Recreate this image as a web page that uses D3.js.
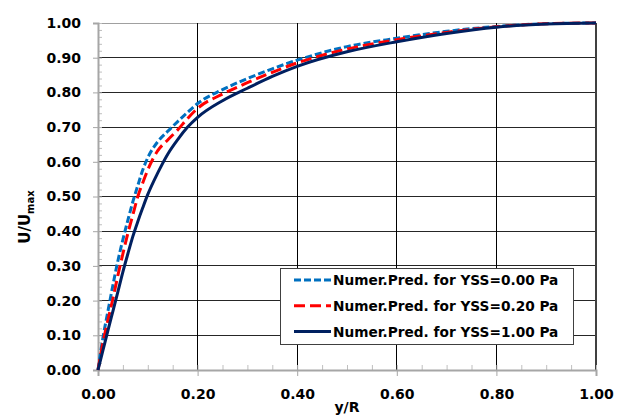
<!DOCTYPE html>
<html>
<head>
<meta charset="utf-8">
<script src="https://cdn.jsdelivr.net/npm/d3@7"></script>
<style>
  body { margin: 0; background: #fff; }
  text { font-family: "DejaVu Sans", sans-serif; font-weight: bold; fill: #000; }
</style>
</head>
<body>
<svg width="624" height="416" id="mainsvg"></svg>
<script>
// data
const yR = [0, 0.01, 0.02, 0.03, 0.04, 0.05, 0.06, 0.07, 0.08, 0.09, 0.10, 0.12, 0.14, 0.16, 0.18, 0.20, 0.25, 0.30, 0.35, 0.40, 0.50, 0.60, 0.70, 0.80, 0.90, 1.00];
const yss000 = [0, 0.094, 0.170, 0.245, 0.315, 0.376, 0.432, 0.485, 0.532, 0.577, 0.612, 0.658, 0.688, 0.716, 0.743, 0.768, 0.808, 0.840, 0.868, 0.893, 0.932, 0.956, 0.976, 0.990, 0.998, 1.000];
const yss020 = [0, 0.079, 0.144, 0.206, 0.273, 0.335, 0.394, 0.447, 0.500, 0.540, 0.577, 0.632, 0.663, 0.692, 0.725, 0.754, 0.795, 0.828, 0.858, 0.885, 0.925, 0.952, 0.973, 0.989, 0.998, 1.000];
const yss100 = [0, 0.057, 0.114, 0.170, 0.226, 0.283, 0.335, 0.385, 0.428, 0.468, 0.506, 0.568, 0.622, 0.664, 0.700, 0.728, 0.776, 0.812, 0.846, 0.875, 0.917, 0.946, 0.970, 0.988, 0.997, 1.000];
const seriesNames = ['Numer.Pred. for YSS=0.00 Pa', 'Numer.Pred. for YSS=0.20 Pa', 'Numer.Pred. for YSS=1.00 Pa'];
const xTicks = [0, 0.2, 0.4, 0.6, 0.8, 1.0];
const yTicks = [0, 0.1, 0.2, 0.3, 0.4, 0.5, 0.6, 0.7, 0.8, 0.9, 1.0];

const svg = d3.select('svg');
const x = d3.scaleLinear().domain([0, 1]).range([98, 596]);
const y = d3.scaleLinear().domain([0, 1]).range([370, 23]);

const series = [
  { name: seriesNames[0], vals: yss000, color: '#0070c0', dash: '7,3' },
  { name: seriesNames[1], vals: yss020, color: '#ff0000', dash: '11,5' },
  { name: seriesNames[2], vals: yss100, color: '#002060', dash: null }
];

// grid
svg.append('g').selectAll('line').data(yTicks.slice(1)).join('line')
  .attr('x1', x(0)).attr('x2', x(1))
  .attr('y1', d => y(d)).attr('y2', d => y(d))
  .attr('stroke', d => d === 1 ? '#a0a0a0' : '#262626').attr('stroke-width', 1)
  .attr('shape-rendering', 'crispEdges');
svg.append('g').selectAll('line').data(xTicks.slice(1)).join('line')
  .attr('x1', d => x(d)).attr('x2', d => x(d))
  .attr('y1', y(0)).attr('y2', y(1))
  .attr('stroke', d => d === 1 ? '#404040' : '#000').attr('stroke-width', d => d === 1 ? 2 : 1)
  .attr('shape-rendering', 'crispEdges');

// minor ticks (inside)
svg.append('g').attr('transform', `translate(${x(0)},0)`)
  .call(d3.axisRight(y).tickValues(d3.range(0, 1.001, 0.02)).tickSize(4).tickFormat(''))
  .call(g => g.select('.domain').remove())
  .call(g => g.selectAll('line').attr('stroke', '#bfbfbf'));
svg.append('g').attr('transform', `translate(0,${y(0)})`)
  .call(d3.axisTop(x).tickValues(d3.range(0, 1.001, 0.05)).tickSize(5).tickFormat(''))
  .call(g => g.select('.domain').remove())
  .call(g => g.selectAll('line').attr('stroke', '#bfbfbf'));

// main axes
svg.append('g').attr('transform', `translate(${x(0)},0)`)
  .call(d3.axisLeft(y).tickValues(yTicks).tickSize(5).tickPadding(12).tickFormat(d3.format('.2f')))
  .call(g => g.select('.domain').attr('stroke', '#a6a6a6').attr('stroke-width', 2))
  .call(g => g.selectAll('line').attr('stroke', '#a6a6a6'))
  .call(g => g.selectAll('text').attr('font-size', 14).attr('font-family', 'DejaVu Sans'));
svg.append('g').attr('transform', `translate(0,${y(0)})`)
  .call(d3.axisBottom(x).tickValues(xTicks).tickSize(6).tickPadding(13).tickFormat(d3.format('.2f')))
  .call(g => g.select('.domain').attr('stroke', '#a6a6a6').attr('stroke-width', 2))
  .call(g => g.selectAll('line').attr('stroke', '#a6a6a6'))
  .call(g => g.selectAll('text').attr('font-size', 14).attr('font-family', 'DejaVu Sans'));

// curves
const line = d3.line().x((d, i) => x(yR[i])).y(d => y(d)).curve(d3.curveMonotoneX);
svg.append('g').selectAll('path').data(series).join('path')
  .attr('d', d => line(d.vals))
  .attr('fill', 'none')
  .attr('stroke', d => d.color)
  .attr('stroke-width', 3)
  .attr('stroke-dasharray', d => d.dash);

// axis titles
svg.append('text').attr('x', x(0.5)).attr('y', 412).attr('text-anchor', 'middle')
  .attr('font-size', 14).text('y/R');
const yl = svg.append('text').attr('transform', 'translate(30,217) rotate(-90)')
  .attr('text-anchor', 'middle').attr('font-size', 15);
yl.append('tspan').text('U/U');
yl.append('tspan').attr('font-size', 10).attr('dy', 4).text('max');

// legend
const lg = svg.append('g');
lg.append('rect').attr('x', 280.5).attr('y', 268.5).attr('width', 293).attr('height', 76)
  .attr('fill', '#fff').attr('stroke', '#404040').attr('stroke-width', 1);
const rows = lg.selectAll('g').data(series).join('g')
  .attr('transform', (d, i) => `translate(0,${280 + i * 25.8})`);
rows.append('line').attr('x1', 294).attr('x2', 331).attr('y1', 0).attr('y2', 0)
  .attr('stroke', d => d.color).attr('stroke-width', 3).attr('stroke-dasharray', d => d.dash);
rows.append('text').attr('x', 333).attr('y', 5).attr('font-size', 13.7).text(d => d.name);
</script>
</body>
</html>
